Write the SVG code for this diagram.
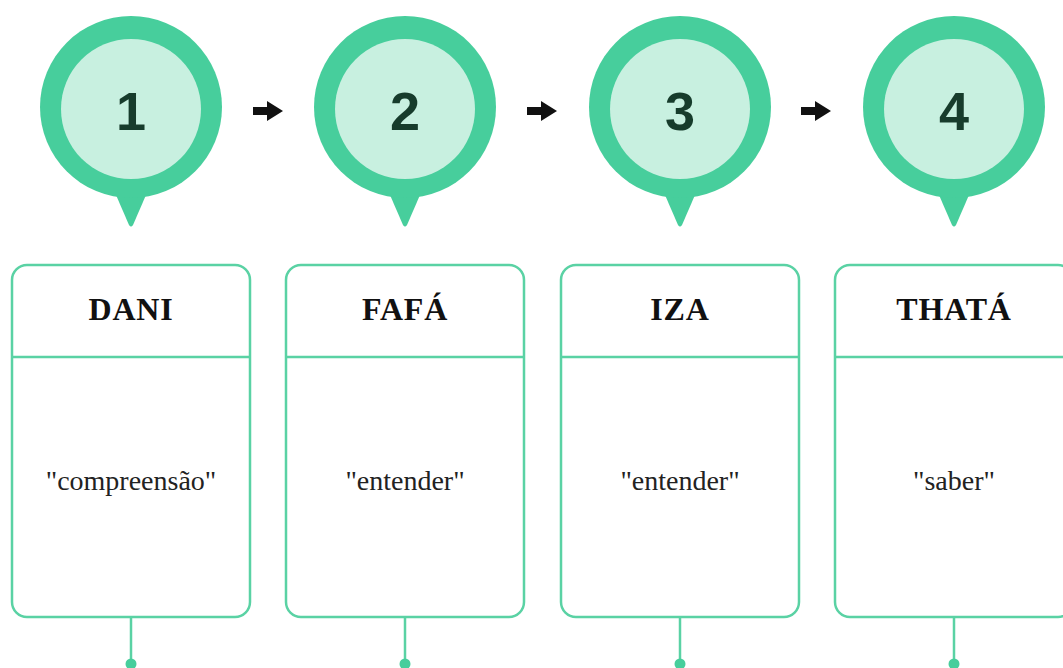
<svg xmlns="http://www.w3.org/2000/svg" width="1063" height="668" viewBox="0 0 1063 668">
<style>
.outer{fill:#47ce9c}
.inner{fill:#c8f0e0}
.num{font-family:"Liberation Sans",Arial,sans-serif;font-weight:bold;font-size:54px;fill:#173c2c;text-anchor:middle}
.box{fill:#ffffff;stroke:#5ad2a4;stroke-width:2.5}
.div{stroke:#5ad2a4;stroke-width:2.5}
.title{font-family:"Liberation Serif","Times New Roman",serif;font-weight:bold;font-size:32px;letter-spacing:0.8px;fill:#111;text-anchor:middle}
.body{font-family:"Liberation Serif","Times New Roman",serif;font-size:28px;fill:#222;text-anchor:middle}
.stem{stroke:#5ad2a4;stroke-width:2.5;fill:none}
.dot{fill:#47ce9c}
.arrow{fill:#111}
</style>
<defs>
<g id="pin">
<path class="outer" d="M-15,88 L15,88 L2,118 Q0,121 -2,118 Z"/>
<circle class="outer" cx="0" cy="0" r="91"/>
<circle class="inner" cx="0" cy="2" r="70"/>
</g>
</defs>
<rect width="1063" height="668" fill="#ffffff"/>
<g id="connectors">
<path class="arrow" d="M253,107 h14 v-6 l16,10 -16,10 v-6 h-14 z"/>
<path class="arrow" d="M527,107 h14 v-6 l16,10 -16,10 v-6 h-14 z"/>
<path class="arrow" d="M801,107 h14 v-6 l16,10 -16,10 v-6 h-14 z"/>
<line class="stem" x1="131" y1="617" x2="131" y2="662"/>
<line class="stem" x1="405" y1="617" x2="405" y2="662"/>
<line class="stem" x1="680" y1="617" x2="680" y2="662"/>
<line class="stem" x1="954" y1="617" x2="954" y2="662"/>
<circle class="dot" cx="131" cy="664" r="5.5"/>
<circle class="dot" cx="405" cy="664" r="5.5"/>
<circle class="dot" cx="680" cy="664" r="5.5"/>
<circle class="dot" cx="954" cy="664" r="5.5"/>
</g>
<g id="step1">
<use href="#pin" x="131" y="107"/>
<text class="num" x="131" y="130">1</text>
</g>
<g id="step2">
<use href="#pin" x="405" y="107"/>
<text class="num" x="405" y="130">2</text>
</g>
<g id="step3">
<use href="#pin" x="680" y="107"/>
<text class="num" x="680" y="130">3</text>
</g>
<g id="step4">
<use href="#pin" x="954" y="107"/>
<text class="num" x="954" y="130">4</text>
</g>
<g id="card-dani">
<rect class="box" x="12" y="265" width="238" height="352" rx="15"/>
<line class="div" x1="12" y1="357" x2="250" y2="357"/>
<text class="title" x="131" y="320">DANI</text>
<text class="body" x="131" y="490">"compreensão"</text>
</g>
<g id="card-fafa">
<rect class="box" x="286" y="265" width="238" height="352" rx="15"/>
<line class="div" x1="286" y1="357" x2="524" y2="357"/>
<text class="title" x="405" y="320">FAFÁ</text>
<text class="body" x="405" y="490">"entender"</text>
</g>
<g id="card-iza">
<rect class="box" x="561" y="265" width="238" height="352" rx="15"/>
<line class="div" x1="561" y1="357" x2="799" y2="357"/>
<text class="title" x="680" y="320">IZA</text>
<text class="body" x="680" y="490">"entender"</text>
</g>
<g id="card-thata">
<rect class="box" x="835" y="265" width="238" height="352" rx="15"/>
<line class="div" x1="835" y1="357" x2="1073" y2="357"/>
<text class="title" x="954" y="320">THATÁ</text>
<text class="body" x="954" y="490">"saber"</text>
</g>
</svg>
